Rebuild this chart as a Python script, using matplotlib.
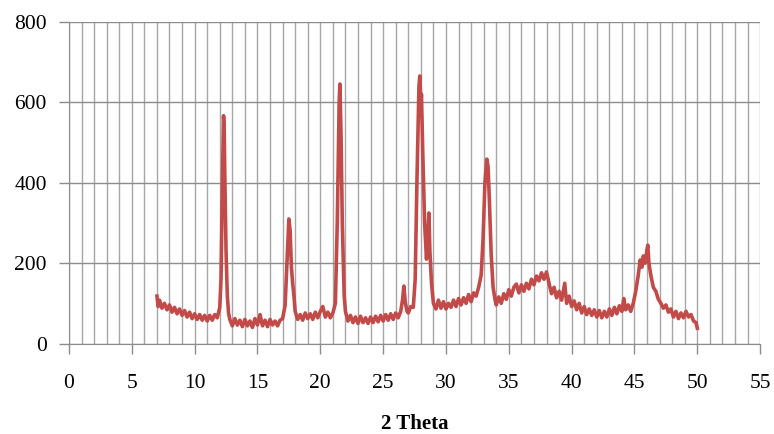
import numpy as np
import matplotlib
matplotlib.use("Agg")
import matplotlib.pyplot as plt
from matplotlib.ticker import MultipleLocator

# XRD pattern (2 theta, intensity)
two_theta = [
    7.0, 7.1, 7.2, 7.4, 7.6, 7.8, 8.0, 8.2, 8.4, 8.6, 8.8, 9.0, 9.2, 9.4, 9.6, 9.8,
    10.0, 10.2, 10.4, 10.6, 10.8, 11.0, 11.2, 11.4, 11.6, 11.8,
    12.0, 12.1, 12.2, 12.3, 12.35, 12.4, 12.5, 12.6, 12.7, 12.8,
    13.0, 13.2, 13.4, 13.6, 13.8, 14.0, 14.2, 14.4, 14.6, 14.8,
    15.0, 15.2, 15.4, 15.6, 15.8, 16.0, 16.2, 16.4, 16.6, 16.8,
    17.0, 17.2, 17.35, 17.5, 17.6, 17.7, 17.8, 17.9, 18.0, 18.2, 18.4, 18.6, 18.8,
    19.0, 19.2, 19.4, 19.6, 19.8, 20.0, 20.2, 20.4, 20.6, 20.8,
    21.0, 21.2, 21.35, 21.5, 21.56, 21.65, 21.75, 21.9, 22.0, 22.2, 22.4, 22.6, 22.8,
    23.0, 23.2, 23.4, 23.6, 23.8, 24.0, 24.2, 24.4, 24.6, 24.8,
    25.0, 25.2, 25.4, 25.6, 25.8, 26.0, 26.2, 26.4, 26.55, 26.65, 26.75, 26.9,
    27.0, 27.2, 27.4, 27.55, 27.7, 27.85, 27.92, 28.0, 28.05, 28.15, 28.3, 28.45,
    28.55, 28.64, 28.72, 28.85, 29.0, 29.2, 29.4, 29.6, 29.8,
    30.0, 30.2, 30.4, 30.6, 30.8, 31.0, 31.2, 31.4, 31.6, 31.8,
    32.0, 32.2, 32.4, 32.6, 32.8, 32.95, 33.1, 33.25, 33.35, 33.45, 33.6, 33.75, 33.9,
    34.0, 34.2, 34.4, 34.6, 34.8, 35.0, 35.2, 35.4, 35.6, 35.8,
    36.0, 36.2, 36.4, 36.6, 36.8, 37.0, 37.2, 37.4, 37.6, 37.8,
    38.0, 38.2, 38.4, 38.6, 38.8, 39.0, 39.2, 39.45, 39.6, 39.8,
    40.0, 40.2, 40.4, 40.6, 40.8, 41.0, 41.2, 41.4, 41.6, 41.8,
    42.0, 42.2, 42.4, 42.6, 42.8, 43.0, 43.2, 43.4, 43.6, 43.8,
    44.0, 44.15, 44.3, 44.5, 44.7, 44.9, 45.1, 45.3, 45.45, 45.6, 45.7, 45.85,
    46.0, 46.06, 46.15, 46.3, 46.5, 46.7, 46.9, 47.1, 47.3, 47.5, 47.7, 47.9,
    48.1, 48.3, 48.5, 48.7, 48.9, 49.1, 49.3, 49.5, 49.7, 49.9, 50.0,
]
intensity = [
    118, 92, 108, 88, 100, 84, 96, 78, 90, 74, 86, 70, 82, 66, 78, 62,
    74, 60, 72, 58, 70, 56, 70, 58, 72, 64,
    90, 160, 380, 567, 540, 420, 230, 120, 75, 60,
    44, 62, 46, 58, 42, 60, 44, 56, 40, 62,
    46, 72, 44, 58, 42, 60, 46, 56, 44, 58,
    62, 95, 200, 310, 280, 190, 150, 120, 80, 60, 72, 58, 76,
    62, 74, 60, 78, 64, 80, 92, 66, 78, 64,
    76, 100, 300, 600, 646, 520, 300, 120, 80, 56, 70, 52, 66,
    50, 68, 52, 64, 50, 66, 52, 68, 54, 70,
    56, 72, 58, 74, 60, 76, 64, 80, 110, 143, 105, 80,
    76, 92, 90, 160, 420, 640, 666, 600, 620, 480, 300, 210,
    260, 325, 230, 150, 100, 86, 108, 88, 104,
    86, 100, 90, 108, 92, 112, 96, 114, 100, 122,
    104, 126, 118, 140, 170, 260, 400, 459, 440, 360, 220, 140, 110,
    96, 116, 100, 124, 110, 134, 118, 140, 148, 126,
    146, 130, 150, 136, 160, 146, 168, 156, 176, 160,
    178, 150, 124, 140, 114, 130, 108, 150, 100, 118,
    92, 106, 84, 100, 76, 92, 72, 86, 70, 84,
    66, 82, 64, 80, 66, 86, 70, 90, 74, 94,
    80, 112, 84, 96, 80, 100, 130, 170, 208, 190, 218, 200,
    235, 245, 200, 170, 140, 130, 110, 100, 88, 96, 78, 86,
    66, 80, 62, 76, 64, 80, 66, 72, 56, 52, 38,
]

x_ticks = [0, 5, 10, 15, 20, 25, 30, 35, 40, 45, 50, 55]
y_ticks = [0, 200, 400, 600, 800]

plt.rcParams['font.family'] = ['Liberation Serif', 'DejaVu Serif']

fig = plt.figure(figsize=(7.74, 4.34), dpi=100)
ax = fig.add_axes([0.0891, 0.2085, 0.893, 0.7405])

ax.plot(two_theta, intensity, color='#c24a48', lw=2.6, zorder=3)

ax.set_xlim(0, 55)
ax.set_ylim(0, 800)
ax.set_xticks(x_ticks)
ax.set_yticks(y_ticks)
ax.xaxis.set_minor_locator(MultipleLocator(1))
ax.grid(which='minor', axis='x', color='#a6a6a6', lw=1.0)
ax.grid(which='major', axis='x', color='#a6a6a6', lw=1.0)
ax.grid(which='major', axis='y', color='#8c8c8c', lw=1.0)
ax.tick_params(axis='x', which='minor', length=0)
ax.tick_params(axis='x', which='major', direction='out', length=7, width=1,
               color='#8c8c8c', labelsize=15.5, pad=15)
ax.tick_params(axis='y', which='major', direction='out', length=7, width=1,
               color='#8c8c8c', labelsize=15.5, pad=9)

for s in ['top', 'right']:
    ax.spines[s].set_visible(False)
ax.spines['left'].set_color('#8c8c8c')
ax.spines['bottom'].set_color('#8c8c8c')

ax.set_xlabel('2 Theta', fontsize=15, fontweight='bold', labelpad=15)

fig.savefig('out.png', dpi=100)
